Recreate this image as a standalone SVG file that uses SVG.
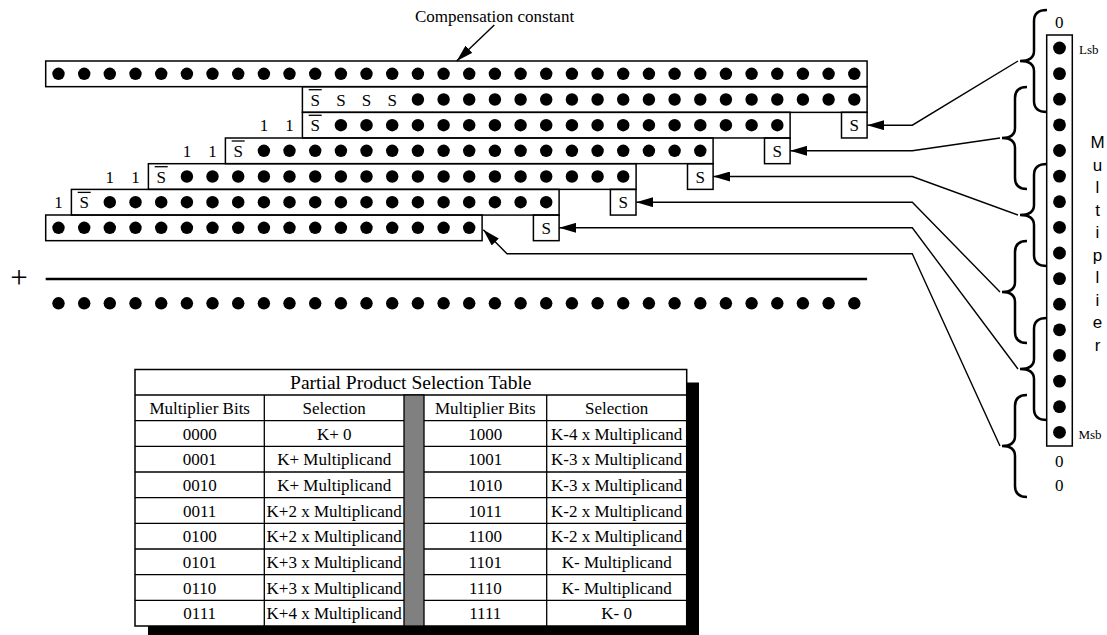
<svg xmlns="http://www.w3.org/2000/svg" xmlns:xlink="http://www.w3.org/1999/xlink" width="1107" height="635" viewBox="0 0 1107 635">
<style>
.box{fill:none;stroke:#000;stroke-width:1.5}
.wbox{fill:#fff;stroke:#000;stroke-width:1.5}
.t{font-family:"Liberation Serif","Times New Roman",serif;font-size:17px;fill:#000;text-anchor:middle}
.ts{font-family:"Liberation Serif","Times New Roman",serif;font-size:13px;fill:#000}
.sans{font-family:"Liberation Sans",Arial,sans-serif;font-size:17px;fill:#000;text-anchor:middle}
.ol{stroke:#000;stroke-width:1.3}
.con{fill:none;stroke:#000;stroke-width:1.4}
.brace{fill:none;stroke:#000;stroke-width:2.5}
.tl{stroke:#000;stroke-width:1.3}
</style>
<defs>
<circle id="dot" r="6.2" fill="#000"/>
<circle id="mdot" r="6.4" fill="#000"/>
<marker id="ah" markerUnits="userSpaceOnUse" markerWidth="17" markerHeight="10" viewBox="0 0 17 10" refX="17" refY="5" orient="auto">
<path d="M0,0 L17,5 L0,10 z" fill="#000"/>
</marker>
</defs>
<rect width="1107" height="635" fill="#fff"/>

<g id="label-compensation">
<text class="t" x="415" y="21.7" style="text-anchor:start">Compensation constant</text>
</g>

<g id="row0">
<rect class="box" x="45.7" y="61" width="821.4" height="25.67"/>
<g transform="translate(0,73.8)">
<use href="#dot" x="58.5"/><use href="#dot" x="84.2"/><use href="#dot" x="109.8"/><use href="#dot" x="135.5"/><use href="#dot" x="161.2"/><use href="#dot" x="186.9"/><use href="#dot" x="212.5"/><use href="#dot" x="238.2"/><use href="#dot" x="263.9"/><use href="#dot" x="289.5"/><use href="#dot" x="315.2"/><use href="#dot" x="340.9"/><use href="#dot" x="366.5"/><use href="#dot" x="392.2"/><use href="#dot" x="417.9"/><use href="#dot" x="443.6"/><use href="#dot" x="469.2"/><use href="#dot" x="494.9"/><use href="#dot" x="520.6"/><use href="#dot" x="546.2"/><use href="#dot" x="571.9"/><use href="#dot" x="597.6"/><use href="#dot" x="623.2"/><use href="#dot" x="648.9"/><use href="#dot" x="674.6"/><use href="#dot" x="700.3"/><use href="#dot" x="725.9"/><use href="#dot" x="751.6"/><use href="#dot" x="777.3"/><use href="#dot" x="802.9"/><use href="#dot" x="828.6"/><use href="#dot" x="854.3"/>
</g>
</g>

<g id="row1">
<rect class="box" x="302.4" y="86.7" width="564.7" height="25.67"/>
<text class="t" x="315.2" y="105.5">S</text><line class="ol" x1="308.7" y1="89.7" x2="321.7" y2="89.7"/>
<text class="t" x="340.9" y="105.5">S</text><text class="t" x="366.5" y="105.5">S</text><text class="t" x="392.2" y="105.5">S</text>
<g transform="translate(0,99.5)">
<use href="#dot" x="417.9"/><use href="#dot" x="443.6"/><use href="#dot" x="469.2"/><use href="#dot" x="494.9"/><use href="#dot" x="520.6"/><use href="#dot" x="546.2"/><use href="#dot" x="571.9"/><use href="#dot" x="597.6"/><use href="#dot" x="623.2"/><use href="#dot" x="648.9"/><use href="#dot" x="674.6"/><use href="#dot" x="700.3"/><use href="#dot" x="725.9"/><use href="#dot" x="751.6"/><use href="#dot" x="777.3"/><use href="#dot" x="802.9"/><use href="#dot" x="828.6"/><use href="#dot" x="854.3"/>
</g>
</g>

<g id="row2">
<rect class="box" x="302.4" y="112.3" width="487.7" height="25.67"/>
<rect class="box" x="841.5" y="112.3" width="25.6" height="25.67"/>
<text class="t" x="263.9" y="131.2">1</text><text class="t" x="289.5" y="131.2">1</text>
<text class="t" x="315.2" y="131.2">S</text><line class="ol" x1="308.7" y1="115.3" x2="321.7" y2="115.3"/>
<text class="t" x="854.3" y="131.2">S</text>
<g transform="translate(0,125.2)">
<use href="#dot" x="340.9"/><use href="#dot" x="366.5"/><use href="#dot" x="392.2"/><use href="#dot" x="417.9"/><use href="#dot" x="443.6"/><use href="#dot" x="469.2"/><use href="#dot" x="494.9"/><use href="#dot" x="520.6"/><use href="#dot" x="546.2"/><use href="#dot" x="571.9"/><use href="#dot" x="597.6"/><use href="#dot" x="623.2"/><use href="#dot" x="648.9"/><use href="#dot" x="674.6"/><use href="#dot" x="700.3"/><use href="#dot" x="725.9"/><use href="#dot" x="751.6"/><use href="#dot" x="777.3"/>
</g>
</g>

<g id="row3">
<rect class="box" x="225.4" y="138" width="487.7" height="25.67"/>
<rect class="box" x="764.5" y="138" width="25.6" height="25.67"/>
<text class="t" x="186.9" y="156.8">1</text><text class="t" x="212.5" y="156.8">1</text>
<text class="t" x="238.2" y="156.8">S</text><line class="ol" x1="231.7" y1="141" x2="244.7" y2="141"/>
<text class="t" x="777.3" y="156.8">S</text>
<g transform="translate(0,150.8)">
<use href="#dot" x="263.9"/><use href="#dot" x="289.5"/><use href="#dot" x="315.2"/><use href="#dot" x="340.9"/><use href="#dot" x="366.5"/><use href="#dot" x="392.2"/><use href="#dot" x="417.9"/><use href="#dot" x="443.6"/><use href="#dot" x="469.2"/><use href="#dot" x="494.9"/><use href="#dot" x="520.6"/><use href="#dot" x="546.2"/><use href="#dot" x="571.9"/><use href="#dot" x="597.6"/><use href="#dot" x="623.2"/><use href="#dot" x="648.9"/><use href="#dot" x="674.6"/><use href="#dot" x="700.3"/>
</g>
</g>

<g id="row4">
<rect class="box" x="148.4" y="163.7" width="487.7" height="25.67"/>
<rect class="box" x="687.5" y="163.7" width="25.6" height="25.67"/>
<text class="t" x="109.8" y="182.5">1</text><text class="t" x="135.5" y="182.5">1</text>
<text class="t" x="161.2" y="182.5">S</text><line class="ol" x1="154.7" y1="166.7" x2="167.7" y2="166.7"/>
<text class="t" x="700.3" y="182.5">S</text>
<g transform="translate(0,176.5)">
<use href="#dot" x="186.9"/><use href="#dot" x="212.5"/><use href="#dot" x="238.2"/><use href="#dot" x="263.9"/><use href="#dot" x="289.5"/><use href="#dot" x="315.2"/><use href="#dot" x="340.9"/><use href="#dot" x="366.5"/><use href="#dot" x="392.2"/><use href="#dot" x="417.9"/><use href="#dot" x="443.6"/><use href="#dot" x="469.2"/><use href="#dot" x="494.9"/><use href="#dot" x="520.6"/><use href="#dot" x="546.2"/><use href="#dot" x="571.9"/><use href="#dot" x="597.6"/><use href="#dot" x="623.2"/>
</g>
</g>

<g id="row5">
<rect class="box" x="71.4" y="189.4" width="487.7" height="25.67"/>
<rect class="box" x="610.4" y="189.4" width="25.6" height="25.67"/>
<text class="t" x="58.5" y="208.2">1</text>
<text class="t" x="84.2" y="208.2">S</text><line class="ol" x1="77.7" y1="192.4" x2="90.7" y2="192.4"/>
<text class="t" x="623.2" y="208.2">S</text>
<g transform="translate(0,202.2)">
<use href="#dot" x="109.8"/><use href="#dot" x="135.5"/><use href="#dot" x="161.2"/><use href="#dot" x="186.9"/><use href="#dot" x="212.5"/><use href="#dot" x="238.2"/><use href="#dot" x="263.9"/><use href="#dot" x="289.5"/><use href="#dot" x="315.2"/><use href="#dot" x="340.9"/><use href="#dot" x="366.5"/><use href="#dot" x="392.2"/><use href="#dot" x="417.9"/><use href="#dot" x="443.6"/><use href="#dot" x="469.2"/><use href="#dot" x="494.9"/><use href="#dot" x="520.6"/><use href="#dot" x="546.2"/>
</g>
</g>

<g id="row6">
<rect class="box" x="45.7" y="215" width="436.4" height="25.67"/>
<rect class="box" x="533.4" y="215" width="25.7" height="25.67"/>
<text class="t" x="546.2" y="233.8">S</text>
<g transform="translate(0,227.8)">
<use href="#dot" x="58.5"/><use href="#dot" x="84.2"/><use href="#dot" x="109.8"/><use href="#dot" x="135.5"/><use href="#dot" x="161.2"/><use href="#dot" x="186.9"/><use href="#dot" x="212.5"/><use href="#dot" x="238.2"/><use href="#dot" x="263.9"/><use href="#dot" x="289.5"/><use href="#dot" x="315.2"/><use href="#dot" x="340.9"/><use href="#dot" x="366.5"/><use href="#dot" x="392.2"/><use href="#dot" x="417.9"/><use href="#dot" x="443.6"/><use href="#dot" x="469.2"/>
</g>
</g>

<g id="sum">
<text x="19" y="288" style="font-family:'Liberation Serif','Times New Roman',serif;font-size:31px;text-anchor:middle">+</text>
<line x1="45.7" y1="279" x2="867.1" y2="279" stroke="#000" stroke-width="2.6"/>
<g transform="translate(0,303.3)">
<use href="#dot" x="58.5"/><use href="#dot" x="84.2"/><use href="#dot" x="109.8"/><use href="#dot" x="135.5"/><use href="#dot" x="161.2"/><use href="#dot" x="186.9"/><use href="#dot" x="212.5"/><use href="#dot" x="238.2"/><use href="#dot" x="263.9"/><use href="#dot" x="289.5"/><use href="#dot" x="315.2"/><use href="#dot" x="340.9"/><use href="#dot" x="366.5"/><use href="#dot" x="392.2"/><use href="#dot" x="417.9"/><use href="#dot" x="443.6"/><use href="#dot" x="469.2"/><use href="#dot" x="494.9"/><use href="#dot" x="520.6"/><use href="#dot" x="546.2"/><use href="#dot" x="571.9"/><use href="#dot" x="597.6"/><use href="#dot" x="623.2"/><use href="#dot" x="648.9"/><use href="#dot" x="674.6"/><use href="#dot" x="700.3"/><use href="#dot" x="725.9"/><use href="#dot" x="751.6"/><use href="#dot" x="777.3"/><use href="#dot" x="802.9"/><use href="#dot" x="828.6"/><use href="#dot" x="854.3"/>
</g>
</g>

<g id="multiplier">
<rect class="box" x="1046.7" y="35" width="25.6" height="411"/>
<g transform="translate(1059.5,0)">
<use href="#mdot" y="48"/><use href="#mdot" y="73.6"/><use href="#mdot" y="99.2"/><use href="#mdot" y="124.9"/><use href="#mdot" y="150.5"/><use href="#mdot" y="176.1"/><use href="#mdot" y="201.7"/><use href="#mdot" y="227.3"/><use href="#mdot" y="253"/><use href="#mdot" y="278.6"/><use href="#mdot" y="304.2"/><use href="#mdot" y="329.8"/><use href="#mdot" y="355.4"/><use href="#mdot" y="381.1"/><use href="#mdot" y="406.7"/><use href="#mdot" y="432.3"/>
</g>
<text class="t" x="1059.3" y="28.3">0</text>
<text class="t" x="1059.3" y="466.7">0</text>
<text class="t" x="1059.3" y="490.5">0</text>
<text class="ts" x="1079" y="54.3">Lsb</text>
<text class="ts" x="1078.5" y="439.3">Msb</text>
<text class="sans" x="1097.5" y="148">M</text>
<text class="sans" x="1097.5" y="170.5">u</text>
<text class="sans" x="1097.5" y="193">l</text>
<text class="sans" x="1097.5" y="215.5">t</text>
<text class="sans" x="1097.5" y="238">i</text>
<text class="sans" x="1097.5" y="260.5">p</text>
<text class="sans" x="1097.5" y="283">l</text>
<text class="sans" x="1097.5" y="305.5">i</text>
<text class="sans" x="1097.5" y="328">e</text>
<text class="sans" x="1097.5" y="350.5">r</text>
</g>

<g id="braces">
<path id="brace1" class="brace" d="M1047,10 Q1034,10 1034,21 L1034,51 Q1034,61 1020,61 Q1034,61 1034,71 L1034,101 Q1034,112 1047,112"/>
<path id="brace2" class="brace" d="M1027,87 Q1015,87 1015,98 L1015,128 Q1015,138 1002,138 Q1015,138 1015,148 L1015,178 Q1015,189 1027,189"/>
<path id="brace3" class="brace" d="M1047,164 Q1034,164 1034,175 L1034,205 Q1034,215 1020,215 Q1034,215 1034,225 L1034,255 Q1034,266 1047,266"/>
<path id="brace4" class="brace" d="M1027,241 Q1015,241 1015,252 L1015,282 Q1015,292 1002,292 Q1015,292 1015,302 L1015,332 Q1015,343 1027,343"/>
<path id="brace5" class="brace" d="M1047,318 Q1034,318 1034,329 L1034,359 Q1034,369 1020,369 Q1034,369 1034,379 L1034,409 Q1034,420 1047,420"/>
<path id="brace6" class="brace" d="M1027,395 Q1015,395 1015,406 L1015,436 Q1015,446 1002,446 Q1015,446 1015,456 L1015,486 Q1015,497 1027,497"/>
</g>

<g id="connectors">
<line class="con" x1="494.3" y1="25" x2="456.7" y2="61" marker-end="url(#ah)"/>
<polyline class="con" points="1018,61 912.3,125.2 867.1,125.2" marker-end="url(#ah)"/>
<polyline class="con" points="1000,138 912.3,150.8 790.1,150.8" marker-end="url(#ah)"/>
<polyline class="con" points="1018,215 912.3,176.5 713.1,176.5" marker-end="url(#ah)"/>
<polyline class="con" points="1000,292 912.3,202.2 636.1,202.2" marker-end="url(#ah)"/>
<polyline class="con" points="1018,369 912.3,227.8 559.1,227.8" marker-end="url(#ah)"/>
<polyline class="con" points="1000,446 912.3,253.8 507,253.8 483.3,229.8" marker-end="url(#ah)"/>
</g>

<g id="table">
<rect x="148" y="382.5" width="551" height="258" fill="#000"/>
<rect class="wbox" x="135" y="369.5" width="551.7" height="256.5"/>
<g class="tl">
<line x1="135" y1="395" x2="686.7" y2="395"/>
<line x1="135" y1="420.7" x2="686.7" y2="420.7"/>
<line x1="135" y1="446.3" x2="686.7" y2="446.3"/>
<line x1="135" y1="472" x2="686.7" y2="472"/>
<line x1="135" y1="497.7" x2="686.7" y2="497.7"/>
<line x1="135" y1="523.4" x2="686.7" y2="523.4"/>
<line x1="135" y1="549" x2="686.7" y2="549"/>
<line x1="135" y1="574.7" x2="686.7" y2="574.7"/>
<line x1="135" y1="600.4" x2="686.7" y2="600.4"/>
<line x1="264.3" y1="395" x2="264.3" y2="626"/>
<line x1="546.7" y1="395" x2="546.7" y2="626"/>
</g>
<rect x="404" y="395" width="20" height="231" fill="#808080" stroke="#000" stroke-width="1.3"/>
<text class="t" x="410.8" y="388.6" style="font-size:19.5px">Partial Product Selection Table</text>
<g class="t">
<text x="199.7" y="413.8">Multiplier Bits</text><text x="334.2" y="413.8">Selection</text><text x="485.3" y="413.8">Multiplier Bits</text><text x="616.7" y="413.8">Selection</text>
<text x="199.7" y="439.5">0000</text><text x="334.2" y="439.5">K+ 0</text><text x="485.3" y="439.5">1000</text><text x="616.7" y="439.5">K-4 x Multiplicand</text>
<text x="199.7" y="465.2">0001</text><text x="334.2" y="465.2">K+ Multiplicand</text><text x="485.3" y="465.2">1001</text><text x="616.7" y="465.2">K-3 x Multiplicand</text>
<text x="199.7" y="490.8">0010</text><text x="334.2" y="490.8">K+ Multiplicand</text><text x="485.3" y="490.8">1010</text><text x="616.7" y="490.8">K-3 x Multiplicand</text>
<text x="199.7" y="516.5">0011</text><text x="334.2" y="516.5">K+2 x Multiplicand</text><text x="485.3" y="516.5">1011</text><text x="616.7" y="516.5">K-2 x Multiplicand</text>
<text x="199.7" y="542.2">0100</text><text x="334.2" y="542.2">K+2 x Multiplicand</text><text x="485.3" y="542.2">1100</text><text x="616.7" y="542.2">K-2 x Multiplicand</text>
<text x="199.7" y="567.8">0101</text><text x="334.2" y="567.8">K+3 x Multiplicand</text><text x="485.3" y="567.8">1101</text><text x="616.7" y="567.8">K- Multiplicand</text>
<text x="199.7" y="593.5">0110</text><text x="334.2" y="593.5">K+3 x Multiplicand</text><text x="485.3" y="593.5">1110</text><text x="616.7" y="593.5">K- Multiplicand</text>
<text x="199.7" y="619.2">0111</text><text x="334.2" y="619.2">K+4 x Multiplicand</text><text x="485.3" y="619.2">1111</text><text x="616.7" y="619.2">K- 0</text>
</g>
</g>
</svg>
